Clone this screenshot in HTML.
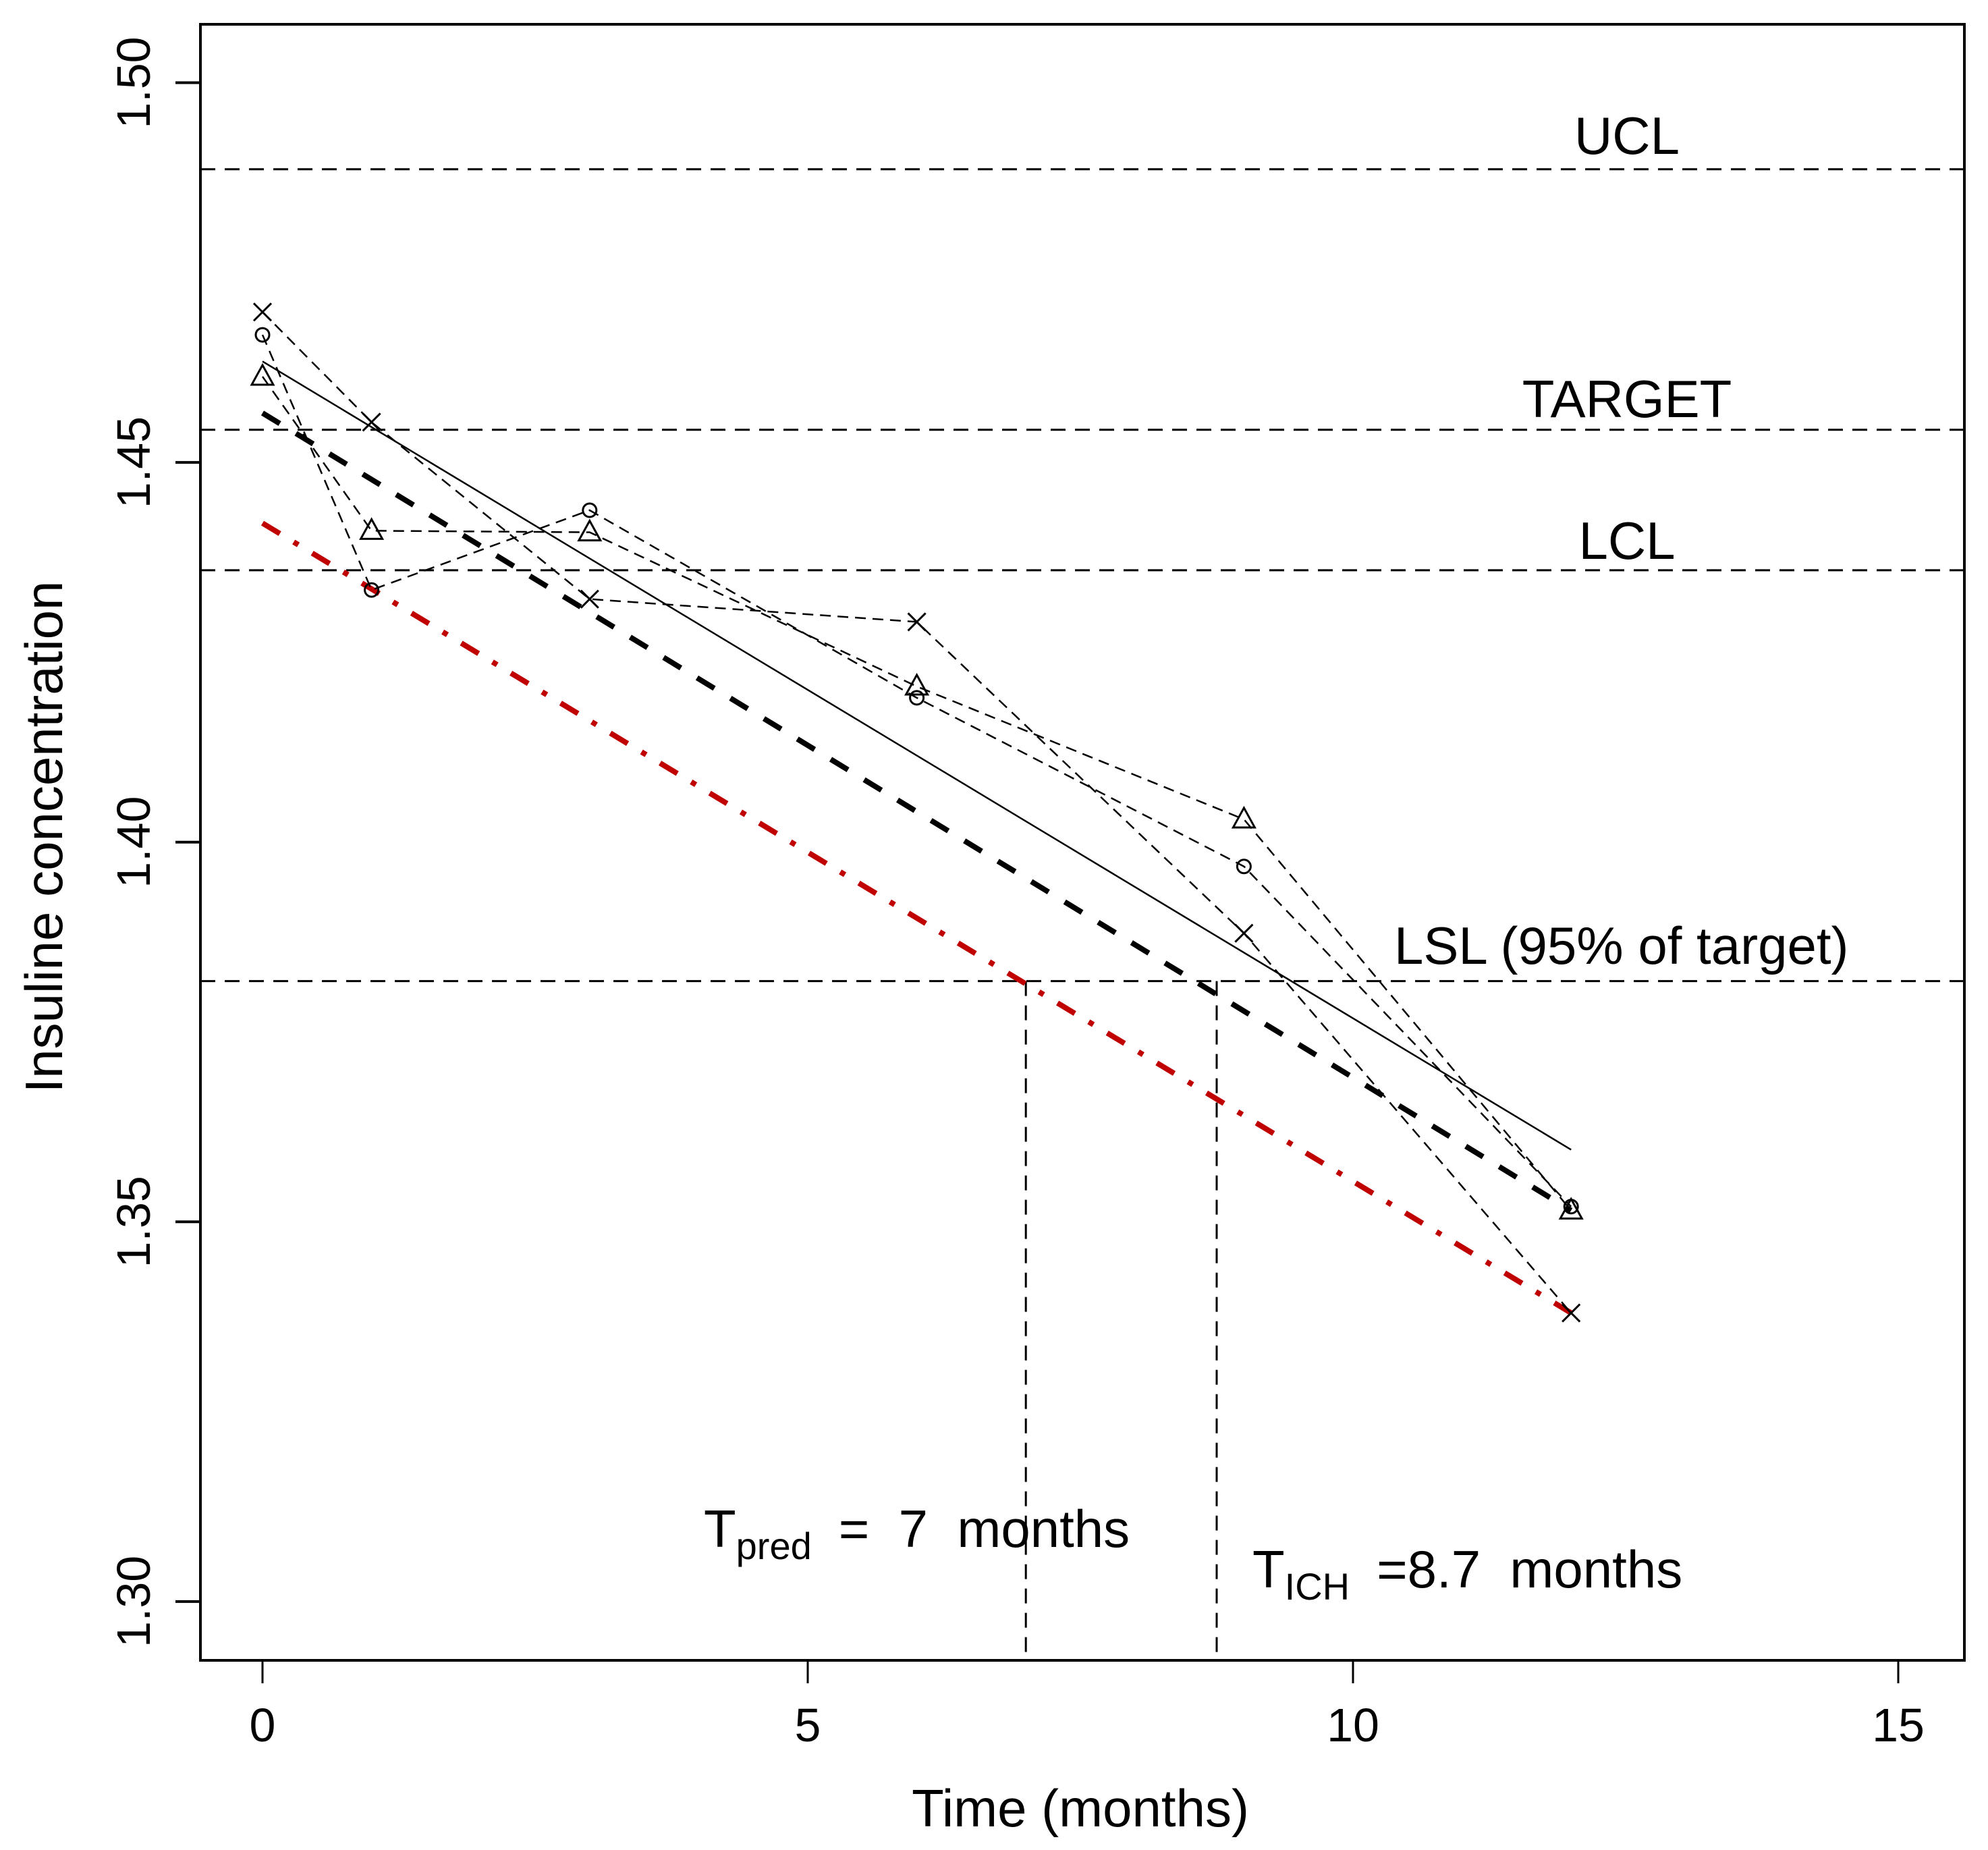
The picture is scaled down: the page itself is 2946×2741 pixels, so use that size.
<!DOCTYPE html>
<html><head><meta charset="utf-8"><style>
html,body{margin:0;padding:0;background:#fff;}
svg{display:block;font-family:"Liberation Sans",Arial,sans-serif;}
</style></head><body>
<svg id="chart" width="2946" height="2741" viewBox="0 0 2946 2741">
<rect x="0" y="0" width="2946" height="2741" fill="#fff"/>
<g id="marks"></g>
<rect x="297" y="36" width="2614" height="2424" fill="none" stroke="#000" stroke-width="4"/>
<g id="axes"></g>
<text x="1601" y="2706" font-size="78" text-anchor="middle">Time (months)</text>
<text transform="translate(92,1240) rotate(-90)" font-size="78" text-anchor="middle">Insuline concentration</text>
<text x="2411" y="228" font-size="78" text-anchor="middle">UCL</text>
<text x="2411" y="618" font-size="78" text-anchor="middle">TARGET</text>
<text x="2411" y="828" font-size="78" text-anchor="middle">LCL</text>
<text x="2066" y="1428" font-size="78">LSL (95% of target)</text>
<text x="1043" y="2292" font-size="78">T<tspan font-size="56" dy="18">pred</tspan><tspan dy="-18" dx="40">=&#160; 7&#160; months</tspan></text>
<text x="1856" y="2352" font-size="78">T<tspan font-size="56" dy="18">ICH</tspan><tspan dy="-18" dx="40">=8.7&#160; months</tspan></text>
</svg>
<script>
const times = [0, 1, 3, 6, 9, 12];
const seriesCross = [1.4698, 1.4553, 1.4320, 1.4290, 1.3880, 1.3380];
const seriesCircle = [1.4668, 1.4332, 1.4437, 1.4190, 1.3968, 1.3520];
const seriesTriangle = [1.4613, 1.4410, 1.4408, 1.4205, 1.4030, 1.3515];
const fitSolid = [1.4633, 1.3595];
const fitMean = [1.4565, 1.3515];
const fitLower = [1.4420, 1.3380];
const fitX = [0, 12];
const refLevels = [1.4886, 1.4543, 1.4358, 1.3817];
const shelfLives = [7.0, 8.75];
const xTicks = [0, 5, 10, 15];
const yTicks = [1.30, 1.35, 1.40, 1.45, 1.50];
const yTickLabels = ["1.30", "1.35", "1.40", "1.45", "1.50"];

const NS = "http://www.w3.org/2000/svg";
const X = t => 389 + t * 161.6;
const Y = v => 122.5 + (1.50 - v) * 11252;
const L = 297, R = 2911, T = 36, B = 2460;
const marks = document.getElementById('marks');
const axes = document.getElementById('axes');
function mk(tag, attrs, parent) {
  const e = document.createElementNS(NS, tag);
  for (const k in attrs) e.setAttribute(k, attrs[k]);
  parent.appendChild(e);
  return e;
}
// reference horizontal lines
const refNames = ['ucl-line', 'target-line', 'lcl-line', 'lsl-line'];
refLevels.forEach((v, i) => {
  const ln = mk('line', {x1: L, x2: R, y1: Y(v), y2: Y(v), stroke: '#000', 'stroke-width': 3, 'stroke-dasharray': '22 14'}, marks);
  
  
});
// shelf-life verticals
shelfLives.forEach((t, i) => {
  const ln = mk('line', {x1: X(t), x2: X(t), y1: Y(refLevels[3]), y2: B, stroke: '#000', 'stroke-width': 3, 'stroke-dasharray': '22 14'}, marks);
  
  
});
// fitted lines
function fit(vals, name, attrs) {
  const ln = mk('line', Object.assign({x1: X(fitX[0]), x2: X(fitX[1]), y1: Y(vals[0]), y2: Y(vals[1])}, attrs), marks);
  
  
}
fit(fitSolid, 'fit-line-solid', {stroke: '#000', 'stroke-width': 2.5});
fit(fitMean, 'fit-line-mean', {stroke: '#000', 'stroke-width': 8, 'stroke-dasharray': '30 28'});
fit(fitLower, 'fit-line-lower-bound', {stroke: '#c00000', 'stroke-width': 8, 'stroke-dasharray': '30 24 8 24'});
// series
function series(vals, name, marker) {
  const pts = times.map((t, i) => X(t) + ',' + Y(vals[i])).join(' ');
  const pl = mk('polyline', {points: pts, fill: 'none', stroke: '#000', 'stroke-width': 2.5, 'stroke-dasharray': '16 10'}, marks);
  
  
  times.forEach((t, i) => {
    const cx = X(t), cy = Y(vals[i]);
    let m;
    if (marker === 'x') {
      m = mk('path', {d: `M${cx-13},${cy-13}L${cx+13},${cy+13}M${cx-13},${cy+13}L${cx+13},${cy-13}`, stroke: '#000', 'stroke-width': 3, fill: 'none'}, marks);
    } else if (marker === 'o') {
      m = mk('circle', {cx: cx, cy: cy, r: 10, stroke: '#000', 'stroke-width': 3, fill: 'none'}, marks);
    } else {
      m = mk('path', {d: `M${cx},${cy-17}L${cx+16},${cy+12}L${cx-16},${cy+12}Z`, stroke: '#000', 'stroke-width': 3, fill: 'none'}, marks);
    }
    
    
  });
}
series(seriesCross, 'batch-cross', 'x');
series(seriesCircle, 'batch-circle', 'o');
series(seriesTriangle, 'batch-triangle', 't');
// axes ticks
xTicks.forEach(t => {
  const tk = mk('line', {x1: X(t), x2: X(t), y1: B, y2: B + 34, stroke: '#000', 'stroke-width': 3}, axes);
  
  
  const tx = mk('text', {x: X(t), y: 2580, 'font-size': 70, 'text-anchor': 'middle'}, axes);
  tx.textContent = String(t);
  
  
});
yTicks.forEach((v, i) => {
  const tk = mk('line', {x1: L - 37, x2: L, y1: Y(v), y2: Y(v), stroke: '#000', 'stroke-width': 4}, axes);
  
  
  const tx = mk('text', {transform: `translate(222,${Y(v)}) rotate(-90)`, 'font-size': 70, 'text-anchor': 'middle'}, axes);
  tx.textContent = yTickLabels[i];
  
  
});
</script>
</body></html>
